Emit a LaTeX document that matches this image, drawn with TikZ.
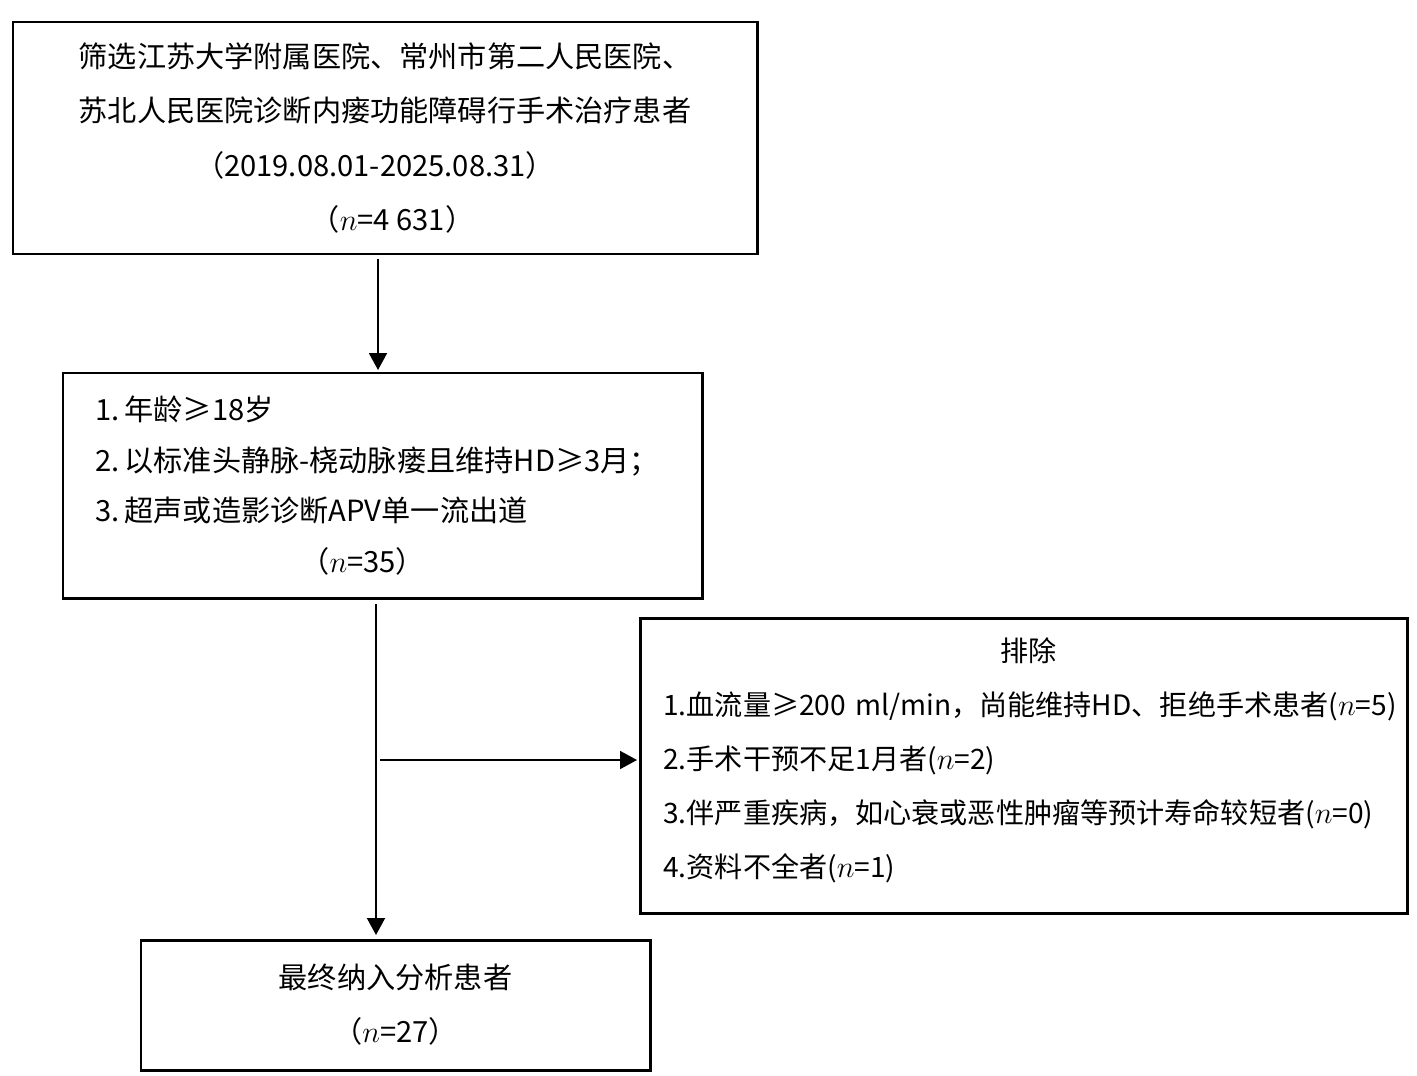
\documentclass[tikz,border=0pt]{standalone}
\usepackage{fontspec}
\setmainfont{Noto Sans CJK SC}
\usepackage{tikz}
\usetikzlibrary{positioning, arrows.meta}

\begin{document}
\begin{tikzpicture}[
    box/.style={draw, line width=1.7pt, inner sep=0pt, outer sep=0pt},
    txt/.style={font=\fontsize{16.6pt}{30.8pt}\selectfont},
    arr/.style={line width=1.1pt, -{Triangle[length=0.34cm, width=0.36cm]}}
  ]
  \useasboundingbox (0, 0) rectangle (28.34, -21.5);

  \node [box, txt, minimum width=14.88cm, minimum height=4.64cm, align=center] (screen) at (7.70, -2.76)
    {筛选江苏大学附属医院、常州市第二人民医院、\\
     苏北人民医院诊断内瘘功能障碍行手术治疗患者\\
     \hspace*{-0.4cm}（2019.08.01-2025.08.31）\\
     \hspace*{0.3cm}（$n$=4 631）};
  \node [box, minimum width=12.78cm, minimum height=4.50cm] (incl) at (7.65, -9.71) {};
  \node [txt, text width=11.5cm, align=left, anchor=west, inner sep=0pt,
         font=\fontsize{16.6pt}{28.8pt}\selectfont] (incltext) at ([xshift=0.64cm]incl.west)
    {1.\,年龄≥18岁\\
     2.\,以标准头静脉-桡动脉瘘且维持HD≥3月；\\
     3.\,超声或造影诊断APV单一流出道\\
     \hspace*{4.1cm}（$n$=35）};
  \node [box, minimum width=15.34cm, minimum height=5.90cm] (excl) at (20.47, -15.31) {};
  \node [txt, text width=14.8cm, align=left, anchor=west, inner sep=0pt,
         font=\fontsize{16pt}{30.8pt}\selectfont] (excltext) at ([xshift=0.46cm, yshift=0.1cm]excl.west)
    {\hspace*{6.74cm}排除\\
     1.血流量≥200 ml/min，尚能维持HD、拒绝手术患者($n$=5)\\
     2.手术干预不足1月者($n$=2)\\
     3.伴严重疾病，如心衰或恶性肿瘤等预计寿命较短者($n$=0)\\
     4.资料不全者($n$=1)};
  \node [box, txt, minimum width=10.18cm, minimum height=2.60cm, align=center] (final) at (7.91, -20.10)
    {最终纳入分析患者\\
     （$n$=27）};

  \coordinate (split) at ([xshift=-0.13cm]incl.south |- 0, -15.20);

  \draw [arr, shorten <=0.1cm, shorten >=0.06cm] ([xshift=-0.14cm]screen.south) -- ([xshift=-0.14cm]screen.south |- incl.north);
  \draw [arr, shorten <=0.12cm, shorten >=0.1cm] ([xshift=-0.13cm]incl.south) -- ([xshift=-0.13cm]incl.south |- final.north);
  \draw [arr, shorten <=0.08cm, shorten >=0.06cm] (split) -- (split -| excl.west);
\end{tikzpicture}
\end{document}
